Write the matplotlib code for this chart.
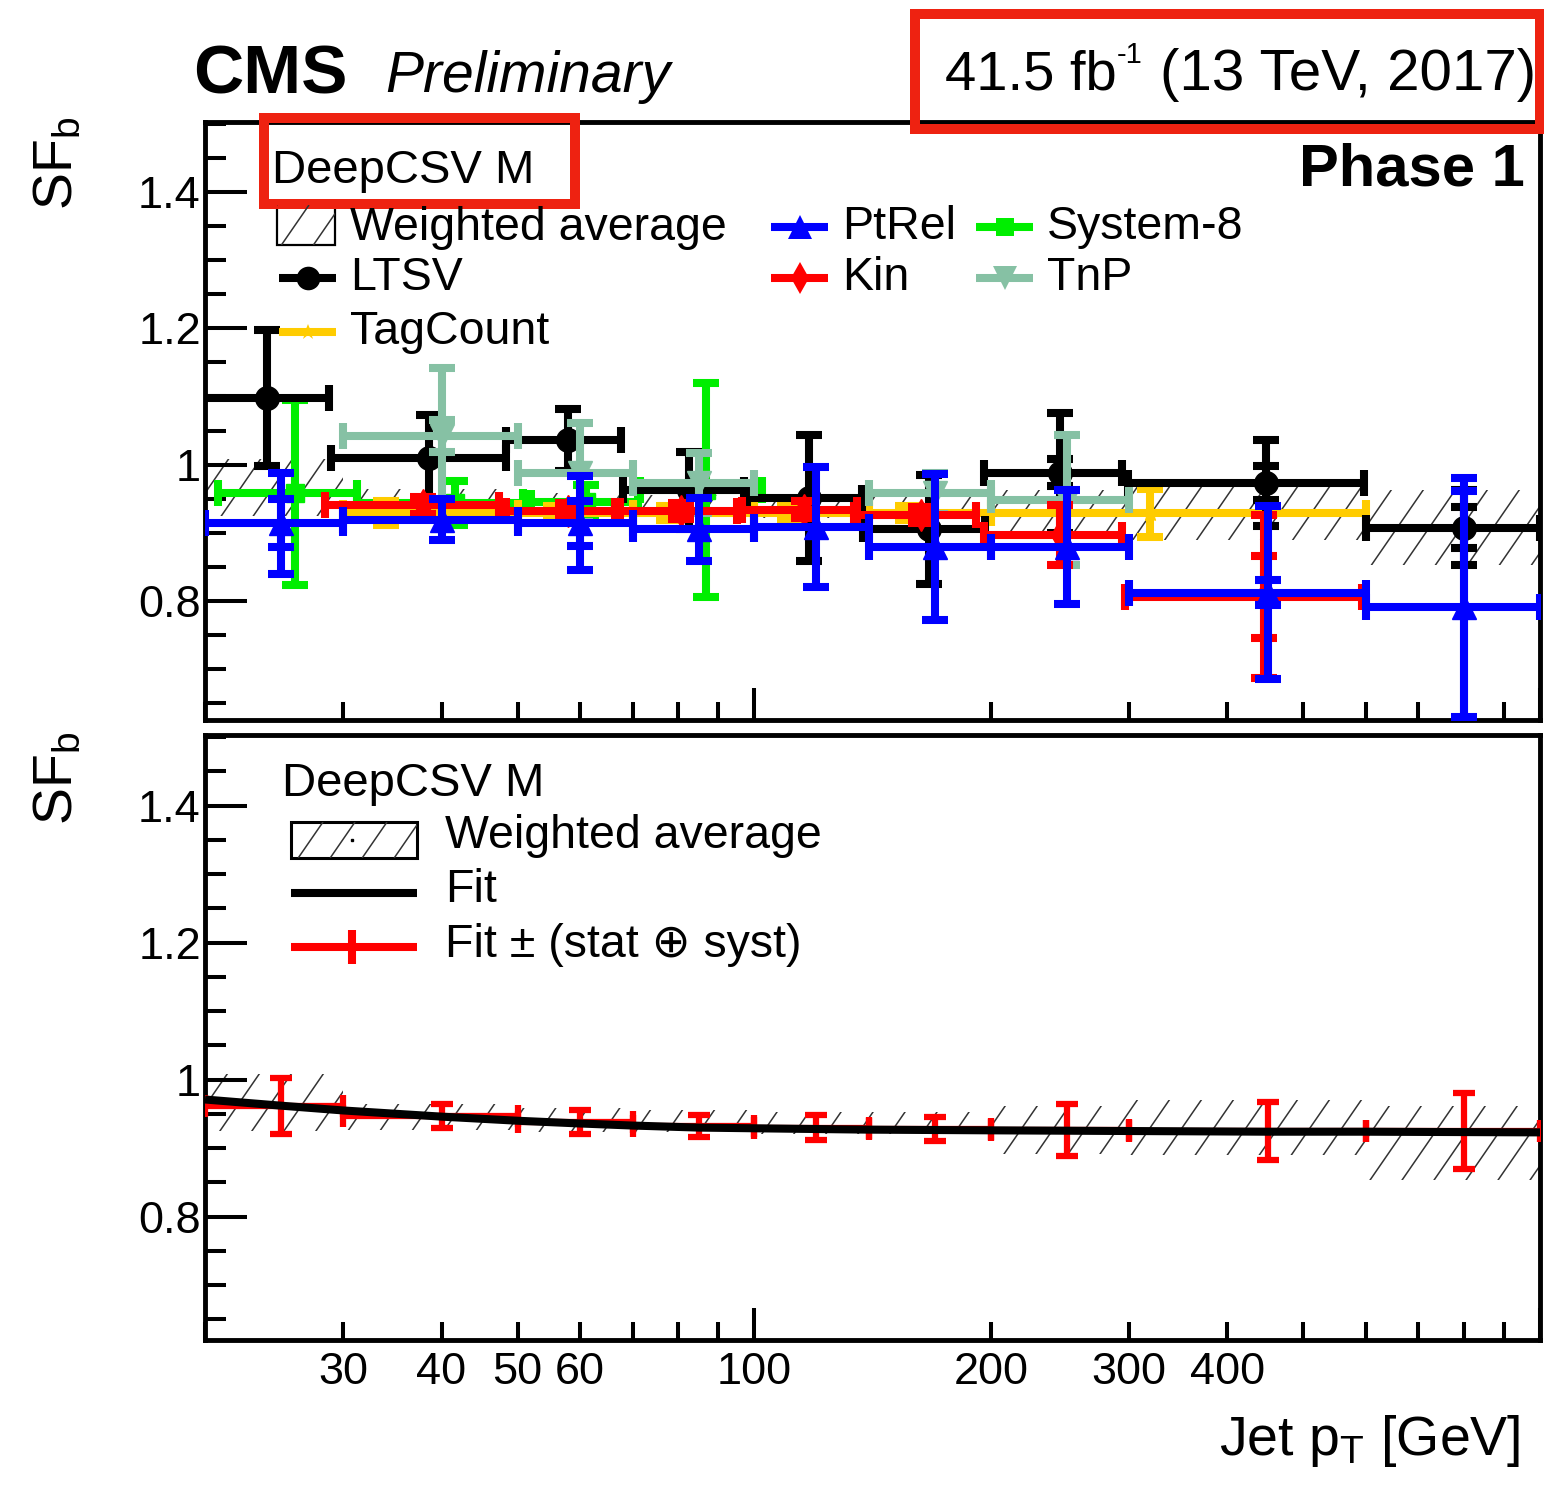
import numpy as np
import matplotlib
matplotlib.use("Agg")
import matplotlib.pyplot as plt
import matplotlib.transforms as mtransforms
from matplotlib.collections import LineCollection
from matplotlib.patches import Rectangle
from matplotlib.path import Path
from matplotlib.ticker import MultipleLocator, FuncFormatter

nan = np.nan

# pT binning used by all methods
pt_edges = [20, 30, 50, 70, 100, 140, 200, 300, 600, 1000]

# weighted average band (per bin, low/high edge of the hatched box)
wavg_lo = [0.925, 0.927, 0.924, 0.924, 0.921, 0.920, 0.892, 0.890, 0.853]
wavg_hi = [1.008, 0.964, 0.958, 0.956, 0.953, 0.953, 0.962, 0.970, 0.962]

# LTSV
ltsv_bins = [0, 1, 2, 3, 4, 5, 6, 7, 8]
ltsv_pt = [24.0, 38.6, 58.0, 82.6, 117.5, 167.0, 245.0, 448.0, 800.0]
ltsv_sf = [1.098, 1.010, 1.036, 0.962, 0.951, 0.905, 0.988, 0.973, 0.907]
ltsv_tot = [0.100, 0.063, 0.045, 0.057, 0.093, 0.080, 0.088, 0.063, 0.055]
ltsv_stat = [nan, nan, nan, nan, nan, nan, 0.020, 0.025, 0.030]

# PtRel
ptrel_bins = [0, 1, 2, 3, 4, 5, 6, 7, 8]
ptrel_pt = [25, 40, 60, 85, 120, 170, 250, 450, 800]
ptrel_sf = [0.914, 0.919, 0.914, 0.905, 0.909, 0.879, 0.879, 0.812, 0.791]
ptrel_tot_dn = [0.074, 0.030, 0.069, 0.046, 0.088, 0.107, 0.084, 0.127, 0.161]
ptrel_tot_up = [0.074, 0.030, 0.069, 0.046, 0.088, 0.107, 0.084, 0.127, 0.190]
ptrel_stat = [0.035, nan, 0.033, nan, nan, nan, nan, 0.018, 0.170]

# Kin
kin_bins = [1, 2, 3, 4, 5, 6, 7]
kin_pt = [37.9, 57.9, 80.7, 115.8, 162.8, 245.0, 445.0]
kin_sf = [0.940, 0.932, 0.932, 0.934, 0.926, 0.897, 0.806]
kin_tot = [0.012, 0.012, 0.012, 0.012, 0.012, 0.044, 0.120]
kin_stat = [nan, nan, nan, nan, nan, nan, 0.060]

# System-8
sys8_bins = [0, 1, 2, 3]
sys8_pt = [26.0, 41.6, 61.0, 86.9]
sys8_sf = [0.959, 0.944, 0.945, 0.963]
sys8_tot = [0.136, 0.032, 0.025, 0.157]

# TnP
tnp_bins = [1, 2, 3, 5, 6]
tnp_pt = [40, 60, 85, 170, 250]
tnp_sf = [1.042, 0.988, 0.973, 0.958, 0.948]
tnp_tot = [0.100, 0.073, 0.044, 0.030, 0.095]
tnp_stat = [0.024, nan, nan, nan, nan]

# TagCount
tc_pt = [34, 56, 78, 111, 157, 319]
tc_lo = [30, 50, 70, 100, 140, 200]
tc_hi = [50, 70, 100, 140, 200, 600]
tc_sf = [0.929, 0.929, 0.929, 0.929, 0.929, 0.929]
tc_tot = [0.017, 0.010, 0.010, 0.010, 0.010, 0.035]

# fit (lower panel)
fit_pt = [20, 25, 30, 40, 50, 60, 70, 85, 100, 140, 200, 300, 450, 600, 1000]
fit_sf = [0.971, 0.962, 0.955, 0.946, 0.940, 0.936, 0.933, 0.930, 0.929, 0.927, 0.926, 0.925, 0.924, 0.924, 0.923]
fiterr_pt = [25, 40, 60, 85, 120, 170, 250, 450, 800]
fiterr_sf = [0.962, 0.947, 0.938, 0.933, 0.930, 0.928, 0.926, 0.925, 0.925]
fiterr_err = [0.041, 0.018, 0.018, 0.016, 0.018, 0.018, 0.038, 0.042, 0.056]

x_labelled = [30, 40, 50, 60, 100, 200, 300, 400]
y_tick_vals = [0.8, 1.0, 1.2, 1.4]
y_tick_text = ["0.8", "1", "1.2", "1.4"]

W, H = 1544, 1485
LW = 5.8
CAP = 9.5

plt.rcParams["font.family"] = ["Liberation Sans", "DejaVu Sans"]
plt.rcParams["mathtext.fontset"] = "custom"
plt.rcParams["mathtext.rm"] = "Liberation Sans"
plt.rcParams["mathtext.it"] = "Liberation Sans:italic"
plt.rcParams["mathtext.bf"] = "Liberation Sans:bold"

fig = plt.figure(figsize=(W / 100, H / 100), dpi=100)


def box(l, t, r, b):
    return [l / W, 1 - b / H, (r - l) / W, (b - t) / H]


PX = mtransforms.Affine2D().scale(1 / W, 1 / H) + fig.transFigure

ax_top = fig.add_axes(box(205, 122, 1540, 720))
ax_bot = fig.add_axes(box(205, 735, 1540, 1340))


def hatch(ax, clip, clip_trans, l, t, r, b, z=1):
    # diagonal "///" lines in output pixels, clipped to a shape
    run = (b - t) / 1.45
    xs = np.arange(l - run, r + 32, 32)
    segs = [[(x, H - b), (x + run, H - t)] for x in xs]
    lc = LineCollection(segs, colors="#333333", linewidths=1.1, transform=PX, zorder=z)
    ax.add_collection(lc, autolim=False)
    lc.set_clip_path(clip, clip_trans)


def band_path(lo, hi):
    verts, codes = [], []
    for i in range(len(lo)):
        x0, x1 = pt_edges[i], pt_edges[i + 1]
        verts += [(x0, lo[i]), (x1, lo[i]), (x1, hi[i]), (x0, hi[i]), (x0, lo[i])]
        codes += [Path.MOVETO, Path.LINETO, Path.LINETO, Path.LINETO, Path.CLOSEPOLY]
    return Path(verts, codes)


def bin_bars(pts, bins):
    lo = np.array([pt_edges[i] for i in bins], float)
    hi = np.array([pt_edges[i + 1] for i in bins], float)
    s = np.asarray(pts, float) / ((lo + hi) / 2)
    return lo * s, hi * s


def draw_series(ax, pts, blo, bhi, sf, err, stat, color, marker, ms, z):
    pts = np.asarray(pts, float)
    sf = np.asarray(sf, float)
    ax.errorbar(pts, sf, xerr=[pts - blo, bhi - pts], yerr=err, fmt=marker, color=color,
                ms=ms, mec=color, lw=LW, capsize=CAP, capthick=LW, zorder=z)
    if stat is not None:
        stat = np.asarray(stat, float)
        m = ~np.isnan(stat)
        ax.errorbar(pts[m], sf[m], yerr=stat[m], fmt="none", ecolor=color,
                    lw=LW, capsize=CAP, capthick=LW, zorder=z)


# ---- upper panel
hatch(ax_top, band_path(wavg_lo, wavg_hi), ax_top.transData, 205, 122, 1540, 720)

lo, hi = bin_bars(sys8_pt, sys8_bins)
draw_series(ax_top, sys8_pt, lo, hi, sys8_sf, sys8_tot, None, "#00ee00", "s", 13, 3)
draw_series(ax_top, tc_pt, np.array(tc_lo), np.array(tc_hi), tc_sf, tc_tot, None, "#ffcc00", "*", 12, 4)
lo, hi = bin_bars(ltsv_pt, ltsv_bins)
draw_series(ax_top, ltsv_pt, lo, hi, ltsv_sf, ltsv_tot, ltsv_stat, "black", "o", 17, 5)
lo, hi = bin_bars(tnp_pt, tnp_bins)
draw_series(ax_top, tnp_pt, lo, hi, tnp_sf, tnp_tot, tnp_stat, "#86c1a4", "v", 17, 6)
lo, hi = bin_bars(kin_pt, kin_bins)
draw_series(ax_top, kin_pt, lo, hi, kin_sf, kin_tot, kin_stat, "#ff0000", "d", 16, 7)
lo, hi = bin_bars(ptrel_pt, ptrel_bins)
draw_series(ax_top, ptrel_pt, lo, hi, ptrel_sf, [ptrel_tot_dn, ptrel_tot_up], ptrel_stat,
            "#0000ff", "^", 17, 8)

# ---- lower panel
hatch(ax_bot, band_path(wavg_lo, wavg_hi), ax_bot.transData, 205, 735, 1540, 1340)
lo, hi = bin_bars(fiterr_pt, range(9))
ax_bot.errorbar(fiterr_pt, fiterr_sf, xerr=[np.array(fiterr_pt) - lo, hi - np.array(fiterr_pt)],
                yerr=fiterr_err, fmt="none", ecolor="#ff0000", lw=4.5, capsize=8, capthick=4.5, zorder=4)
ax_bot.plot(fit_pt, fit_sf, color="black", lw=LW, zorder=6, solid_capstyle="butt")

for ax in (ax_top, ax_bot):
    ax.set_xscale("log")
    ax.set_xlim(20, 1000)
    ax.set_xticks([100, 1000])
    ax.set_xticks([20, 30, 40, 50, 60, 70, 80, 90, 200, 300, 400, 500, 600, 700, 800, 900], minor=True)
    fmt = FuncFormatter(lambda v, p: "%g" % v if int(round(v)) in x_labelled else "")
    ax.xaxis.set_major_formatter(fmt)
    ax.xaxis.set_minor_formatter(fmt)
    ax.set_yticks(y_tick_vals)
    ax.set_yticklabels(y_tick_text)
    ax.yaxis.set_minor_locator(MultipleLocator(0.05))
    ax.tick_params(which="both", direction="in", top=False, right=False, width=2.9, labelsize=32.5)
    ax.tick_params(axis="y", which="major", length=30, pad=3)
    ax.tick_params(axis="y", which="minor", length=15)
    ax.tick_params(axis="x", which="major", length=23, pad=9)
    ax.tick_params(axis="x", which="minor", length=13, pad=9)
    for s in ax.spines.values():
        s.set_linewidth(3.5)

ax_top.set_ylim(0.625, 1.503)
ax_bot.set_ylim(0.620, 1.503)
ax_top.tick_params(axis="x", which="both", labelbottom=False)

# ---- overlay: texts, legends, highlight boxes (pixel coordinates)
ov = fig.add_axes([0, 0, 1, 1], zorder=10)
ov.set_xlim(0, W)
ov.set_ylim(H, 0)
ov.axis("off")

ov.text(193, 93, "CMS", fontsize=50, fontweight="bold", va="baseline")
ov.text(385, 92, "Preliminary", fontsize=41, style="italic", va="baseline")
ov.text(945, 90, "41.5 fb", fontsize=40.5, va="baseline")
ov.text(1117, 63, "-1", fontsize=21, va="baseline")
ov.text(1536, 90, "(13 TeV, 2017)", fontsize=42, ha="right", va="baseline")
ov.text(1525, 186, "Phase 1", fontsize=43, fontweight="bold", ha="right", va="baseline")
ov.text(58, 163, "SF$_{\\mathrm{b}}$", fontsize=40, rotation=90, ha="center", va="center")
ov.text(58, 778, "SF$_{\\mathrm{b}}$", fontsize=40, rotation=90, ha="center", va="center")
ov.text(1520, 1455, "Jet p$_{\\mathrm{T}}$ [GeV]", fontsize=40, ha="right", va="baseline")

LEG = 33.5
# upper legend
ov.text(272, 183, "DeepCSV M", fontsize=34, va="baseline")
r = Rectangle((277, 205), 58, 40, fill=False, ec="black", lw=1.6)
ov.add_patch(r)
hatch(ov, r.get_path(), r.get_transform(), 277, 205, 335, 245, z=11)
entries = [
    (279, 278, "black", "o", 17, "LTSV"),
    (279, 332, "#ffcc00", "*", 12, "TagCount"),
    (771, 227, "#0000ff", "^", 17, "PtRel"),
    (771, 278, "#ff0000", "d", 16, "Kin"),
    (976, 227, "#00ee00", "s", 13, "System-8"),
    (976, 278, "#86c1a4", "v", 17, "TnP"),
]
ov.text(350, 240, "Weighted average", fontsize=LEG, va="baseline")
for x0, y0, c, m, ms, name in entries:
    ov.plot([x0, x0 + 57], [y0, y0], color=c, lw=LW, solid_capstyle="butt")
    ov.plot([x0 + 28.5], [y0], marker=m, ms=ms, color=c, mew=0)
    ov.text(x0 + 71, y0 + 12, name, fontsize=LEG, va="baseline")

# lower legend
ov.text(282, 796, "DeepCSV M", fontsize=34, va="baseline")
r2 = Rectangle((291, 822), 126, 36, fill=False, ec="black", lw=2.2)
ov.add_patch(r2)
hatch(ov, r2.get_path(), r2.get_transform(), 291, 822, 417, 858, z=11)
ov.plot([352], [840], marker="s", ms=2, color="black")
ov.text(445, 848, "Weighted average", fontsize=LEG, va="baseline")
ov.plot([291, 417], [893, 893], color="black", lw=LW, solid_capstyle="butt")
ov.text(445, 902, "Fit", fontsize=LEG, va="baseline")
ov.plot([291, 417], [947, 947], color="#ff0000", lw=LW, solid_capstyle="butt")
ov.plot([352, 352], [930, 964], color="#ff0000", lw=LW, solid_capstyle="butt")
ov.text(445, 957, "Fit \u00b1 (stat \u2295 syst)", fontsize=LEG, va="baseline")

# red highlight boxes
ov.add_patch(Rectangle((915, 14), 625, 115, fill=False, ec="#ee2211", lw=7.2))
ov.add_patch(Rectangle((264, 118), 311, 86, fill=False, ec="#ee2211", lw=7.2))

fig.savefig("out.png", dpi=100)
